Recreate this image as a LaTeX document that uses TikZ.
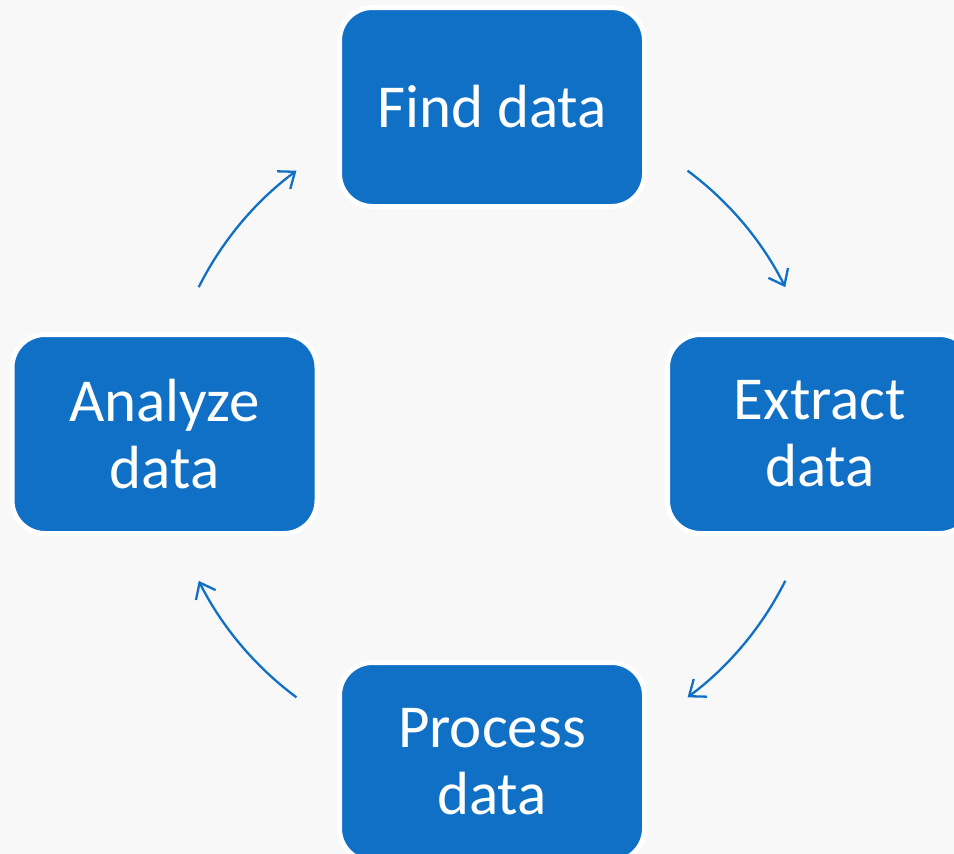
\documentclass[tikz,border=0pt]{standalone}
\usepackage{fontspec}
\setmainfont{Carlito}
\usetikzlibrary{arrows.meta,calc}
\definecolor{boxblue}{RGB}{16,112,198}
\definecolor{bg}{RGB}{248,248,248}
\begin{document}
\begin{tikzpicture}[x=1pt,y=1pt,
  stepbox/.style={rectangle, rounded corners=33pt, fill=boxblue, draw=white, line width=5pt,
    minimum width=305pt, minimum height=199pt, inner sep=0pt, text=white, align=center,
    font=\fontsize{61}{67}\selectfont},
  arr/.style={draw=boxblue, line width=2.3pt, -{Straight Barb[length=14pt,width=22pt,line width=2.3pt]}}]
\path[use as bounding box, fill=bg] (0,0) rectangle (954,-854);
\clip (0,0) rectangle (954,-854);
\coordinate (ctr) at (492,-434);
\node[stepbox] (find) at (492,-107) {Find data};
\node[stepbox] (extract) at (820,-434) {Extract\\data};
\node[stepbox] (process) at (492,-762) {Process\\data};
\node[stepbox] (analyze) at (164.5,-434) {Analyze\\data};
\coordinate (a1) at ($(ctr)+(53.4:328)$);
\coordinate (a2) at ($(ctr)+(-26.6:328)$);
\coordinate (a3) at ($(ctr)+(233.4:328)$);
\coordinate (a4) at ($(ctr)+(153.4:328)$);
\draw[arr] (a1) arc[start angle=53.4, end angle=26.6, radius=328];
\draw[arr] (a2) arc[start angle=-26.6, end angle=-53.4, radius=328];
\draw[arr] (a3) arc[start angle=233.4, end angle=206.6, radius=328];
\draw[arr] (a4) arc[start angle=153.4, end angle=126.6, radius=328];
\end{tikzpicture}
\end{document}
